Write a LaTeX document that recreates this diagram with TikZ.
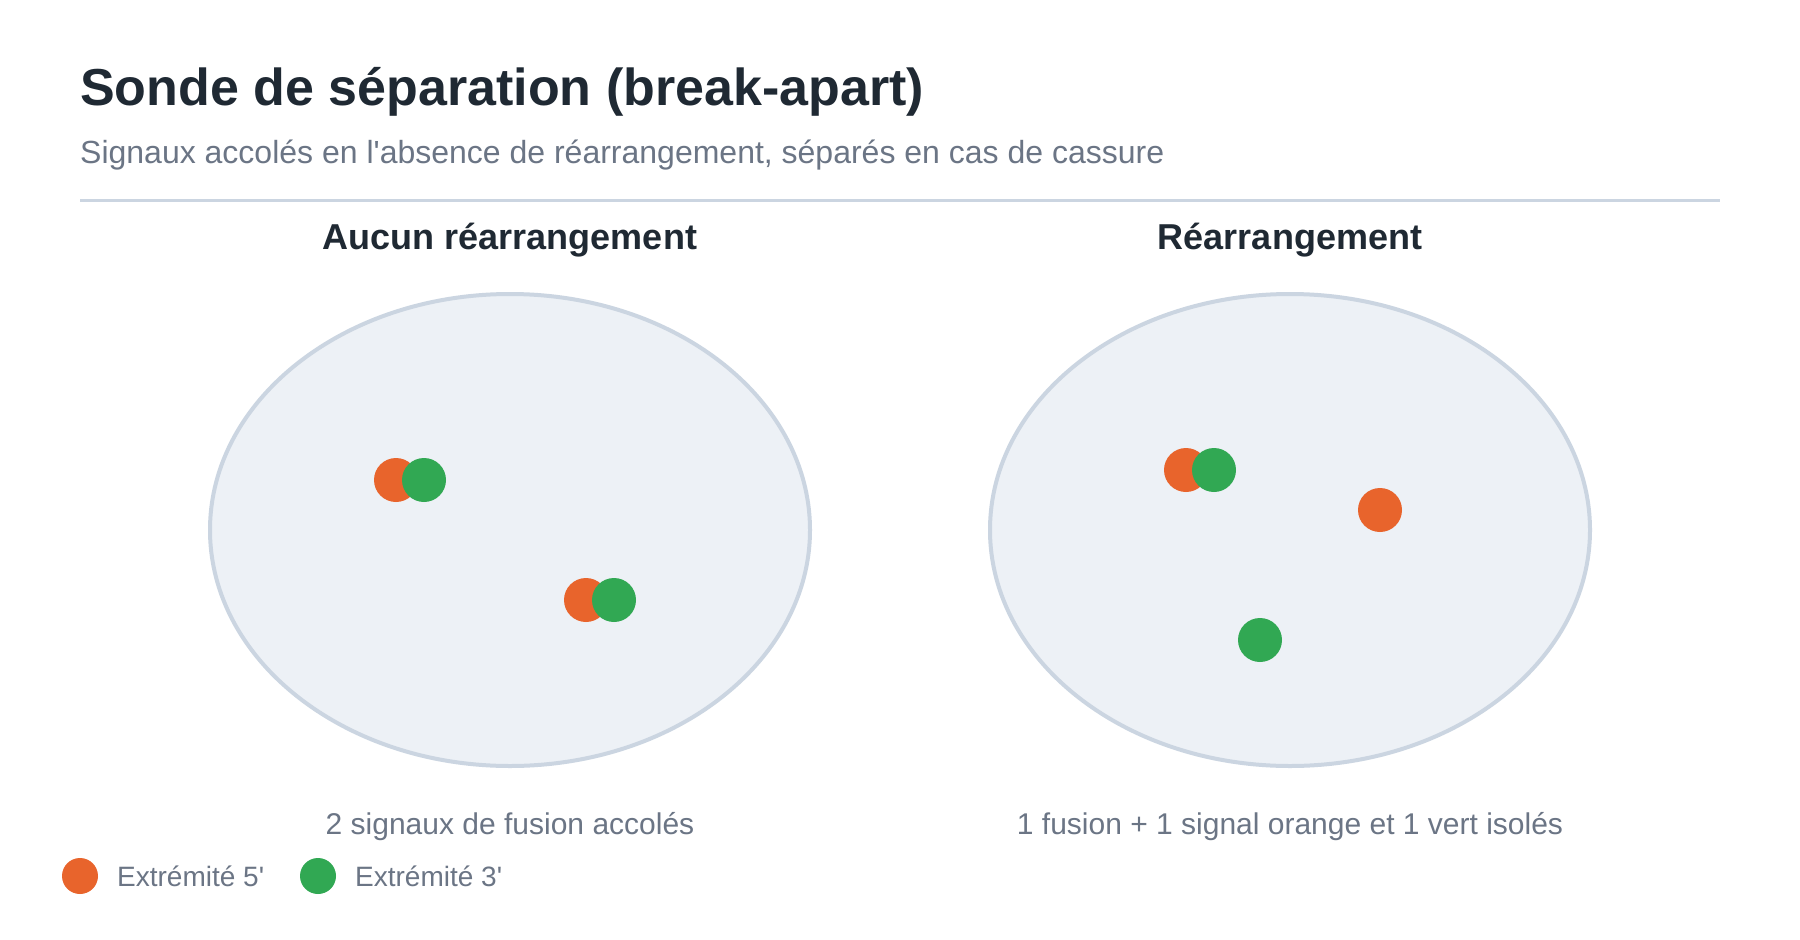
\documentclass[tikz,border=0pt]{standalone}
\usepackage{fontspec}
\setmainfont{Liberation Sans}[Ligatures=TeXOff]
\usetikzlibrary{shapes.geometric}
\definecolor{titlec}{HTML}{1F2933}
\definecolor{subc}{HTML}{6B7585}
\definecolor{linec}{HTML}{CBD5E1}
\definecolor{cellfill}{HTML}{EDF1F6}
\definecolor{orangec}{HTML}{E8642C}
\definecolor{greenc}{HTML}{31A853}
\tikzset{
  title/.style={anchor=base west, inner sep=0, text=titlec, font=\fontsize{52}{58}\selectfont\bfseries},
  subtitle/.style={anchor=base west, inner sep=0, text=subc, font=\fontsize{32}{36}\selectfont},
  paneltitle/.style={anchor=base, inner sep=0, text=titlec, font=\fontsize{36}{40}\selectfont\bfseries},
  caption/.style={anchor=base, inner sep=0, text=subc, font=\fontsize{30}{34}\selectfont},
  legendtext/.style={anchor=base west, inner sep=0, text=subc, font=\fontsize{28}{32}\selectfont},
  cell/.style={ellipse, draw=linec, fill=cellfill, line width=4pt, minimum width=600pt, minimum height=472pt, inner sep=0},
  dot5/.style={circle, fill=orangec, minimum size=44pt, inner sep=0},
  dot3/.style={circle, fill=greenc, minimum size=44pt, inner sep=0},
  leg5/.style={circle, fill=orangec, minimum size=36pt, inner sep=0},
  leg3/.style={circle, fill=greenc, minimum size=36pt, inner sep=0},
}
\begin{document}
\begin{tikzpicture}[x=1pt, y=-1pt]
\useasboundingbox (0,0) rectangle (1800,940);
\fill[white] (0,0) rectangle (1800,940);
\node[title] (t) at (80,105) {Sonde de séparation (break-apart)};
\node[subtitle] (st) at (80,163) {Signaux accolés en l'absence de réarrangement, séparés en cas de cassure};
\coordinate (dl) at (80,200);
\coordinate (dr) at (1720,200);
\draw[linec, line width=3pt] (dl) -- (dr);
\node[paneltitle] (p1) at (510,249) {Aucun réarrangement};
\node[paneltitle] (p2) at (1290,249) {Réarrangement};
\node[cell] (c1) at (510,530) {};
\node[cell] (c2) at (1290,530) {};
% left panel
\node[dot5] (a1) at (396,480) {};
\node[dot3] (b1) at (424,480) {};
\node[dot5] (a2) at (586,600) {};
\node[dot3] (b2) at (614,600) {};
% right panel
\node[dot5] (a3) at (1186,470) {};
\node[dot3] (b3) at (1214,470) {};
\node[dot5] (a4) at (1380,510) {};
\node[dot3] (b4) at (1260,640) {};
\node[caption] (cap1) at (510,834) {2 signaux de fusion accolés};
\node[caption] (cap2) at (1290,834) {1 fusion + 1 signal orange et 1 vert isolés};
\node[leg5] (l5) at (80,876) {};
\node[legendtext] (lt5) at (117,886) {Extrémité 5'};
\node[leg3] (l3) at (318,876) {};
\node[legendtext] (lt3) at (355,886) {Extrémité 3'};
\end{tikzpicture}
\end{document}
